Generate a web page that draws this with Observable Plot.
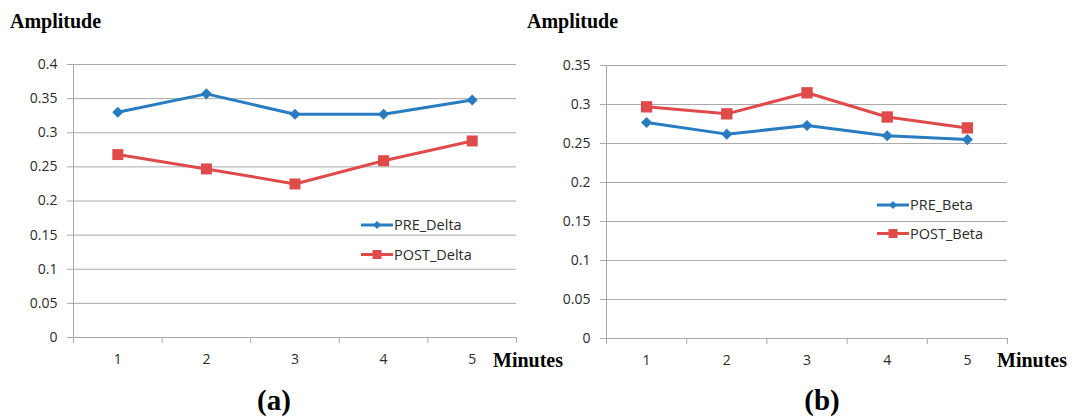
<!DOCTYPE html>
<html><head><meta charset="utf-8">
<script src="https://cdn.jsdelivr.net/npm/d3@7"></script>
<script src="https://cdn.jsdelivr.net/npm/@observablehq/plot@0.6"></script>
<style>
body{margin:0;background:#fff;}
#wrap{position:relative;width:1072px;height:417px;overflow:hidden;background:#fff;}
#wrap > svg{position:absolute;top:0;}
</style></head><body><div id="wrap"></div>
<script>
// ---- data ----
const minutes = [1, 2, 3, 4, 5];
const preDelta  = [0.330, 0.357, 0.327, 0.327, 0.348];
const postDelta = [0.268, 0.247, 0.225, 0.259, 0.288];
const preBeta   = [0.277, 0.262, 0.273, 0.260, 0.255];
const postBeta  = [0.297, 0.288, 0.315, 0.284, 0.270];
const yTicksDelta = [0, 0.05, 0.1, 0.15, 0.2, 0.25, 0.3, 0.35, 0.4];
const yTicksBeta  = [0, 0.05, 0.1, 0.15, 0.2, 0.25, 0.3, 0.35];
const seriesNames = ["PRE_Delta", "POST_Delta", "PRE_Beta", "POST_Beta"];
const yTitle = "Amplitude";
const xTitle = "Minutes";
const panelLabels = ["(a)", "(b)"];

const BLUE = "#2a7cc0", RED = "#df4b4b", GRID = "#a9a9a9", TXT = "#2b2b2b";
const boundaries = minutes.map(m => m - 0.5).concat([minutes[minutes.length - 1] + 0.5]);

function panel({pre, post, yTicks, ml, mr, mt, mb, sq}) {
  const rowsPre = minutes.map((m, i) => ({m, v: pre[i]}));
  const rowsPost = minutes.map((m, i) => ({m, v: post[i]}));
  return Plot.plot({
    width: 536, height: 417,
    marginLeft: ml, marginRight: mr, marginTop: mt, marginBottom: mb,
    x: {domain: [boundaries[0], boundaries[boundaries.length - 1]]},
    y: {domain: [0, yTicks[yTicks.length - 1]]},
    style: {fontFamily: "'Open Sans', sans-serif", fontSize: "14px", color: TXT, background: "transparent"},
    marks: [
      Plot.gridY(yTicks, {stroke: GRID, strokeOpacity: 1}),
      Plot.ruleX([boundaries[0]], {stroke: GRID}),
      Plot.ruleY([0], {stroke: GRID}),
      Plot.axisY(yTicks, {tickSize: 6, tickPadding: 10, stroke: GRID, fill: TXT, label: null,
        tickFormat: d => String(+d.toFixed(2))}),
      Plot.axisX(boundaries, {tickSize: 6, stroke: GRID, tickFormat: () => "", label: null}),
      Plot.axisX(minutes, {tickSize: 0, tickPadding: 17, fill: TXT, label: null, tickFormat: d => String(d)}),
      Plot.line(rowsPre, {x: "m", y: "v", stroke: BLUE, strokeWidth: 3}),
      Plot.line(rowsPost, {x: "m", y: "v", stroke: RED, strokeWidth: 3}),
      Plot.dot(rowsPre, {x: "m", y: "v", symbol: "diamond2", r: 5, fill: BLUE, stroke: "none"}),
      Plot.dot(rowsPost, {x: "m", y: "v", symbol: "square", r: sq, fill: RED, stroke: "none"})
    ]
  });
}

const wrap = document.getElementById("wrap");
const left = panel({pre: preDelta, post: postDelta, yTicks: yTicksDelta, ml: 73, mr: 20, mt: 64, mb: 80, sq: 6.2});
left.style.left = "0px";
wrap.appendChild(left);
const right = panel({pre: preBeta, post: postBeta, yTicks: yTicksBeta, ml: 70, mr: 65, mt: 65, mb: 79, sq: 6.4});
right.style.left = "536px";
wrap.appendChild(right);

// ---- overlay: titles and legends ----
const ns = "http://www.w3.org/2000/svg";
const ov = document.createElementNS(ns, "svg");
ov.setAttribute("width", 1072); ov.setAttribute("height", 417);
ov.style.left = "0px";
wrap.appendChild(ov);
function txt(x, y, s, attrs) {
  const t = document.createElementNS(ns, "text");
  t.setAttribute("x", x); t.setAttribute("y", y); t.textContent = s;
  for (const k in attrs) t.setAttribute(k, attrs[k]);
  ov.appendChild(t); return t;
}
const serif = {"font-family": "'Liberation Serif', serif", "font-weight": "bold", "font-size": 20, fill: "#000"};
txt(10, 28, yTitle, serif);
txt(527, 28, yTitle, serif);
txt(493, 367, xTitle, serif);
txt(997, 367, xTitle, serif);
const lab = {"font-family": "'Liberation Serif', serif", "font-weight": "bold", "font-size": 29, fill: "#000", "text-anchor": "middle"};
txt(274, 410, panelLabels[0], lab);
txt(822, 410, panelLabels[1], lab);

function legendItem(x0, x1, y, color, kind, name) {
  const l = document.createElementNS(ns, "line");
  l.setAttribute("x1", x0); l.setAttribute("x2", x1); l.setAttribute("y1", y); l.setAttribute("y2", y);
  l.setAttribute("stroke", color); l.setAttribute("stroke-width", 3);
  ov.appendChild(l);
  const cx = (x0 + x1) / 2;
  const p = document.createElementNS(ns, "path");
  const s = kind === "diamond" ? 4 : 4.5;
  p.setAttribute("d", kind === "diamond"
    ? `M${cx},${y - s}L${cx + s},${y}L${cx},${y + s}L${cx - s},${y}Z`
    : `M${cx - s},${y - s}h${2 * s}v${2 * s}h${-2 * s}Z`);
  p.setAttribute("fill", color);
  ov.appendChild(p);
  txt(x1 + 1, y, name, {"font-family": "'Open Sans', sans-serif", "font-size": 14.5, fill: TXT, dy: "0.35em"});
}
legendItem(361, 393, 225, BLUE, "diamond", seriesNames[0]);
legendItem(361, 393, 254.5, RED, "square", seriesNames[1]);
legendItem(877, 909, 205, BLUE, "diamond", seriesNames[2]);
legendItem(877, 909, 233.5, RED, "square", seriesNames[3]);
</script></body></html>
